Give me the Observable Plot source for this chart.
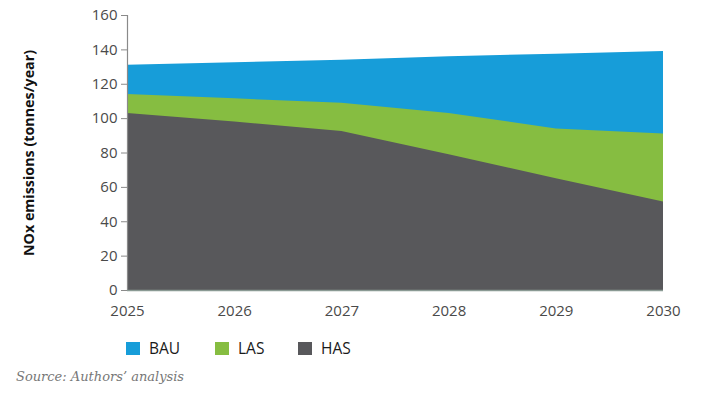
<!DOCTYPE html>
<html>
<head>
<meta charset="utf-8">
<script src="https://cdn.jsdelivr.net/npm/d3@7"></script>
<script src="https://cdn.jsdelivr.net/npm/@observablehq/plot@0.6"></script>
<style>
  html, body { margin: 0; padding: 0; background: #fff; }
  #chart svg { display: block; }
  .legend { position: relative; height: 26px; margin-top: 5px; font-family: "Open Sans", sans-serif; font-size: 15.5px; color: #1a1a1a; }
  .legend .item { position: absolute; top: 0; display: flex; align-items: center; height: 26px; }
  .legend .sw { width: 14px; height: 13px; margin-right: 9px; }
  .caption { position: absolute; left: 16px; top: 369px; font-family: "DejaVu Serif", serif; font-style: italic; font-size: 13px; color: #777; }
</style>
</head>
<body>
<div id="chart"></div>
<div class="legend" id="legend"></div>
<div class="caption">Source: Authors’ analysis</div>
<script>
const years = [2025, 2026, 2027, 2028, 2029, 2030];
const series = ["BAU", "LAS", "HAS"];
const colors = ["#179dd9", "#86bd41", "#58585b"];
const bau = [131, 132.5, 134, 136, 137.5, 139];
const las = [114, 111.5, 109, 103, 94, 91];
const has = [103, 98, 92.5, 79, 65, 51.5];
const yTicks = [0, 20, 40, 60, 80, 100, 120, 140, 160];
const yLabel = "NOx emissions (tonnes/year)";
const legendX = [126, 215, 298];

const values = [bau, las, has];
const data = [];
series.forEach((s, i) => years.forEach((y, j) => data.push({series: s, year: y, value: values[i][j]})));

const chart = Plot.plot({
  width: 715,
  height: 330,
  marginTop: 15,
  marginBottom: 40,
  marginLeft: 127,
  marginRight: 52,
  style: {fontFamily: "Open Sans, sans-serif", fontSize: "15px", color: "#4a4a4a"},
  x: {domain: [2025, 2030]},
  y: {domain: [0, 160]},
  marks: [
    ...series.map((s, i) => Plot.areaY(data.filter(d => d.series === s), {x: "year", y1: 0, y2: "value", fill: colors[i]})),
    Plot.ruleX([2025], {stroke: "#8a8a8a", strokeWidth: 1.2}),
    Plot.ruleY([0], {stroke: "#8a9a94", strokeWidth: 1.5}),
    Plot.axisY({ticks: yTicks, tickSize: 6, tickPadding: 4, label: null, stroke: "#8a8a8a", fill: "#4a4a4a"}),
    Plot.axisX({ticks: years, tickFormat: "d", tickSize: 0, tickPadding: 15, label: null, fill: "#4a4a4a"}),
    Plot.text([yLabel], {frameAnchor: "left", textAnchor: "middle", rotate: -90, dx: -98, dy: 0, fontWeight: "bold", fontSize: 14.3, fill: "#111"})
  ]
});
document.getElementById("chart").appendChild(chart);

const legend = document.getElementById("legend");
series.forEach((s, i) => {
  const item = document.createElement("div");
  item.className = "item";
  item.style.left = legendX[i] + "px";
  item.innerHTML = `<span class="sw" style="background:${colors[i]}"></span><span>${s}</span>`;
  legend.appendChild(item);
});
</script>
</body>
</html>
